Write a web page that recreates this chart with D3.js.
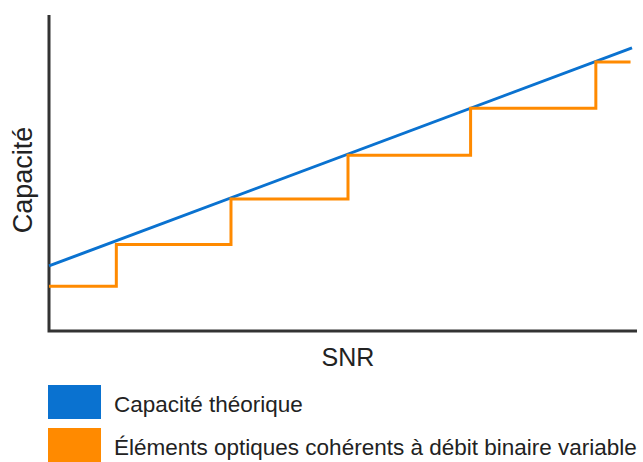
<!DOCTYPE html>
<html><head><meta charset="utf-8">
<script src="https://cdn.jsdelivr.net/npm/d3@7"></script>
<style>body{margin:0;background:#fff}svg{display:block}text{font-family:"Liberation Sans",Arial,sans-serif;fill:#222}</style>
</head><body>
<script>
const seriesNames = ["Capacité théorique", "Éléments optiques cohérents à débit binaire variable"];
const colors = ["#0a72d0", "#ff8a00"];
// theoretical capacity line (SNR, capacity), arbitrary units
const theoryX = [0, 9.915];
const theoryY = [2.06, 8.96];
// variable bit rate step function: breakpoints and levels
const stepX = [0, 1.145, 3.095, 5.085, 7.17, 9.30, 9.89];
const stepY = [1.42, 2.74, 4.18, 5.56, 7.05, 8.51, 8.51];
const xLabel = "SNR", yLabel = "Capacité";

const W = 643, H = 462;
const svg = d3.select("body").append("svg").attr("width", W).attr("height", H);
const x = d3.scaleLinear().domain([0, 10]).range([49, 637]);
const y = d3.scaleLinear().domain([0, 10]).range([331, 15]);

// axes
svg.append("path").attr("d", `M${x(0)},${y(10)}V${y(0)}H${x(10)}`)
  .attr("fill", "none").attr("stroke", "#333").attr("stroke-width", 3);

// theory line
const theory = theoryX.map((v, i) => [v, theoryY[i]]);
svg.append("path").datum(theory)
  .attr("d", d3.line().x(d => x(d[0])).y(d => y(d[1])))
  .attr("fill", "none").attr("stroke", colors[0]).attr("stroke-width", 3);

// step line
const steps = stepX.map((v, i) => [v, stepY[i]]);
svg.append("path").datum(steps)
  .attr("d", d3.line().curve(d3.curveStepAfter).x(d => x(d[0])).y(d => y(d[1])))
  .attr("fill", "none").attr("stroke", colors[1]).attr("stroke-width", 3);

// labels
svg.append("text").attr("x", 348).attr("y", 366).attr("text-anchor", "middle")
  .attr("font-size", 25).text(xLabel);
svg.append("text").attr("transform", "translate(32,180) rotate(-90)").attr("text-anchor", "middle")
  .attr("font-size", 27).text(yLabel);

// legend
seriesNames.forEach((n, i) => {
  const top = 385 + i * 43;
  svg.append("rect").attr("x", 48).attr("y", top).attr("width", 53).attr("height", 34).attr("fill", colors[i]);
  svg.append("text").attr("x", 114).attr("y", top + 27).attr("font-size", 22.5).text(n);
});
</script>
</body></html>
